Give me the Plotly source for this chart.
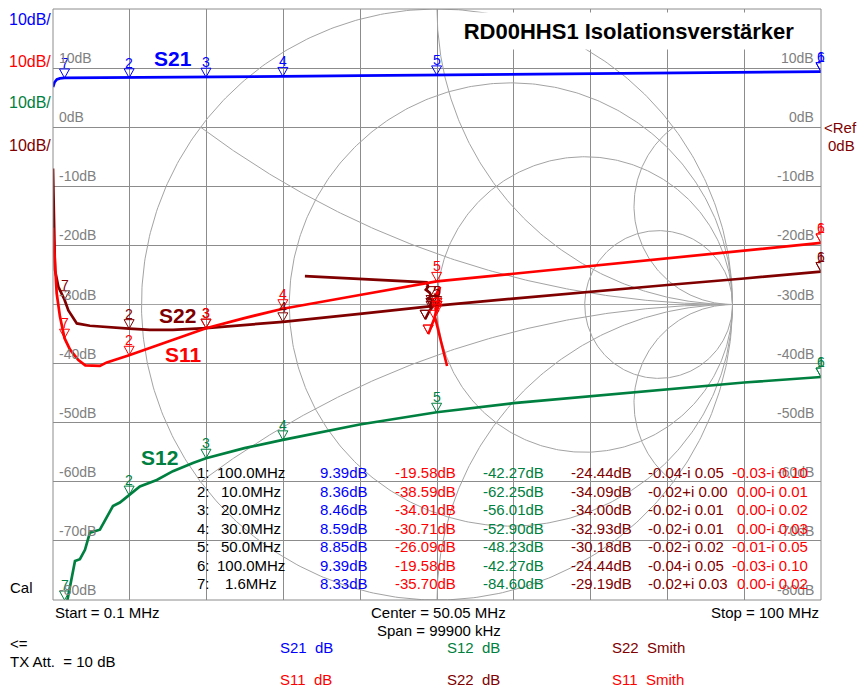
import numpy as np
import plotly.graph_objects as go

# ---------------- data ----------------
f_s21 = [0.1, 0.3, 0.6, 1.0, 1.6, 3.0, 5.0, 10, 11, 15, 20, 25, 30, 40, 50, 60, 70, 80, 90, 100]
s21_db = [6.8, 7.6, 8.1, 8.25, 8.33, 8.34, 8.35, 8.36, 8.4, 8.43, 8.46, 8.52, 8.59, 8.72, 8.85, 8.96, 9.07, 9.17, 9.28, 9.39]

f_s11 = [0.1, 0.36, 0.58, 1.0, 1.6, 2.3, 3.4, 4.3, 6.2, 7.1, 10, 15, 20, 25, 30, 40, 50, 60, 70, 80, 90, 100]
s11_db = [-17.0, -23.6, -28.1, -32.0, -35.7, -37.6, -39.4, -40.3, -40.4, -39.8, -38.59, -36.3, -34.01, -32.3,
          -30.71, -28.4, -26.09, -24.8, -23.5, -22.2, -20.9, -19.58]

f_s22 = [0.1, 0.27, 0.36, 0.8, 1.6, 2.1, 3.2, 4.9, 8.4, 10, 12.7, 15.7, 20, 25, 30, 40, 50, 60, 70, 80, 90, 100]
s22_db = [-7.0, -16.8, -24.2, -27.0, -29.19, -31.0, -33.2, -33.6, -34.0, -34.09, -34.3, -34.3, -34.0, -33.5,
          -32.93, -31.6, -30.18, -29.0, -27.8, -26.7, -25.6, -24.44]

f_s12 = [0.1, 0.5, 1.0, 1.6, 1.9, 2.5, 2.96, 3.6, 4.26, 4.9, 6.2, 7.9, 8.8, 10, 11.4, 13.6, 15.7, 18.3, 20,
         25, 30, 40, 50, 60, 70, 80, 90, 100]
s12_db = [-95, -92, -88, -84.6, -80.5, -76.5, -73.4, -73.1, -71.5, -68.6, -68.1, -64.1, -63.5, -62.25, -60.8,
          -59.7, -58.2, -56.8, -56.01, -54.3, -52.9, -50.3, -48.23, -46.7, -45.5, -44.3, -43.2, -42.27]

# Smith traces (reflection coefficient, real / imag)
s22_sm_re = [-0.447, -0.035, -0.030, -0.038, -0.025, -0.020, -0.030, -0.015, -0.020, -0.022, -0.018,
             -0.020, -0.020, -0.025, -0.030, -0.035, -0.040]
s22_sm_im = [0.096, 0.075, 0.060, 0.050, 0.040, 0.030, 0.020, 0.015, 0.005, 0.000, -0.005,
             -0.010, -0.015, -0.020, -0.030, -0.040, -0.050]
s11_sm_re = [0.034, -0.007, 0.010, -0.005, 0.008, 0.000, 0.005, -0.004, 0.002, 0.000, 0.000,
             -0.005, -0.010, -0.015, -0.020, -0.025, -0.030]
s11_sm_im = [-0.208, -0.042, 0.060, 0.030, 0.010, -0.020, 0.015, 0.000, -0.010, -0.015, -0.020,
             -0.030, -0.050, -0.060, -0.075, -0.090, -0.100]

# Marker table
mk_index = ["1:", "2:", "3:", "4:", "5:", "6:", "7:"]
mk_num = ["1", "2", "3", "4", "5", "6", "7"]
mk_freq = [100.0, 10.0, 20.0, 30.0, 50.0, 100.0, 1.6]
mk_freq_lbl = ["100.0MHz", "10.0MHz", "20.0MHz", "30.0MHz", "50.0MHz", "100.0MHz", "1.6MHz"]
mk_s21 = [9.39, 8.36, 8.46, 8.59, 8.85, 9.39, 8.33]
mk_s11 = [-19.58, -38.59, -34.01, -30.71, -26.09, -19.58, -35.70]
mk_s12 = [-42.27, -62.25, -56.01, -52.90, -48.23, -42.27, -84.60]
mk_s22 = [-24.44, -34.09, -34.00, -32.93, -30.18, -24.44, -29.19]
mk_s22_re = [-0.04, -0.02, -0.02, -0.02, -0.02, -0.04, -0.02]
mk_s22_im = [-0.05, 0.00, -0.01, -0.01, -0.02, -0.05, 0.03]
mk_s11_re = [-0.03, 0.00, 0.00, 0.00, -0.01, -0.03, 0.00]
mk_s11_im = [-0.10, -0.01, -0.02, -0.03, -0.05, -0.10, -0.02]

db_ticks = [10, 0, -10, -20, -30, -40, -50, -60, -70, -80]
smith_r = [0, 1/3, 1, 3]
smith_x = [1/3, 1, 3, -1/3, -1, -3]

# ---------------- styling ----------------
BLUE, RED, GREEN, DRED = "#0000ff", "#ff0000", "#008040", "#800000"
GRID, SMITH_C, LBL = "#8c8c8c", "#a3a3a3", "#808080"
FONT = "Liberation Sans, Arial, sans-serif"

W, H = 858, 691
L, R, T, B = 53, 821, 9, 600


def px(xp):
    return (xp - L) / (R - L)


def py(yp):
    return (B - yp) / (B - T)


fig = go.Figure()


def arc(re, im):
    fig.add_trace(go.Scatter(x=re, y=im, mode="lines", line=dict(color=SMITH_C, width=1),
                             hoverinfo="skip", showlegend=False, xaxis="x", yaxis="y"))


# Smith chart background grid (on Gamma axes)
t = np.linspace(0, 2 * np.pi, 500)
for r in smith_r:
    c, rad = r / (1 + r), 1 / (1 + r)
    arc(c + rad * np.cos(t), rad * np.sin(t))
rr = np.concatenate([[0.0], np.logspace(-3, 3, 500)])
for xv in smith_x:
    g = (rr + 1j * xv - 1) / (rr + 1j * xv + 1)
    arc(g.real, g.imag)
arc([-1, 1], [0, 0])

# Smith traces
fig.add_trace(go.Scatter(x=s22_sm_re, y=s22_sm_im, mode="lines", line=dict(color=DRED, width=2.6),
                         hoverinfo="skip", showlegend=False, xaxis="x", yaxis="y"))
fig.add_trace(go.Scatter(x=s11_sm_re, y=s11_sm_im, mode="lines", line=dict(color=RED, width=2.6),
                         hoverinfo="skip", showlegend=False, xaxis="x", yaxis="y"))

# dB traces
for f, v, col in [(f_s12, s12_db, GREEN), (f_s22, s22_db, DRED), (f_s11, s11_db, RED), (f_s21, s21_db, BLUE)]:
    fig.add_trace(go.Scatter(x=f, y=v, mode="lines", line=dict(color=col, width=2.7),
                             hoverinfo="skip", showlegend=False, xaxis="x2", yaxis="y2"))

shapes = []
ann = []

TRI = "M-5,9 L5,9 L0,0 Z"


def marker(x, y, xref, yref, col, num):
    shapes.append(dict(type="path", xref=xref, yref=yref, xsizemode="pixel", ysizemode="pixel",
                       xanchor=x, yanchor=y, path=TRI, line=dict(color=col, width=1)))
    ann.append(dict(x=x, y=y, xref=xref, yref=yref, text=num, showarrow=False, yshift=15,
                    xanchor="center", yanchor="middle", font=dict(family=FONT, size=14, color=col)))


for vals, col in [(mk_s12, GREEN), (mk_s22, DRED), (mk_s11, RED), (mk_s21, BLUE)]:
    for i in range(7):
        v = min(max(vals[i], -80), 20)
        marker(mk_freq[i], v, "x2", "y2", col, mk_num[i])
for re_, im_, col in [(mk_s22_re, mk_s22_im, DRED), (mk_s11_re, mk_s11_im, RED)]:
    for i in range(7):
        shapes.append(dict(type="path", xref="x", yref="y", xsizemode="pixel", ysizemode="pixel",
                           xanchor=re_[i], yanchor=im_[i], path=TRI, line=dict(color=col, width=1)))

# frame
shapes.append(dict(type="rect", xref="paper", yref="paper", x0=0, x1=1, y0=0, y1=1,
                   line=dict(color=GRID, width=1), layer="above"))


def text(xp, yp, s, col="black", size=15, xa="left", bold=False, **kw):
    ann.append(dict(x=px(xp), y=py(yp), xref="paper", yref="paper", text=(f"<b>{s}</b>" if bold else s),
                    showarrow=False, xanchor=xa, yanchor="middle",
                    font=dict(family=FONT, size=size, color=col), **kw))


# gray dB labels inside plot
for v in db_ticks:
    lab = f"{v}dB"
    ann.append(dict(x=px(57), y=v, xref="paper", yref="y2", text=lab, showarrow=False, xanchor="left",
                    yanchor="bottom", font=dict(family=FONT, size=14, color=LBL)))
    ann.append(dict(x=px(816), y=v, xref="paper", yref="y2", text=lab, showarrow=False, xanchor="right",
                    yanchor="bottom", font=dict(family=FONT, size=14, color=LBL)))

# scale labels at left
for yp, col in [(19, BLUE), (61, RED), (102, GREEN), (146, DRED)]:
    text(7, yp, "10dB/", col, size=16)
text(822, 127, "&lt;Ref", DRED, size=15)
text(826, 145, "0dB", DRED, size=15)
text(8, 587, "Cal", "black", size=15)

# title
ann.append(dict(x=px(629), y=py(31), xref="paper", yref="paper",
                text="<b>RD00HHS1 Isolationsverstärker</b>", showarrow=False,
                xanchor="center", yanchor="middle", bgcolor="white", width=362, height=34,
                font=dict(family=FONT, size=22, color="black")))

# trace labels
text(152, 59, "S21", BLUE, size=21, bold=True)
text(157, 315, "S22", DRED, size=21, bold=True)
text(163, 354, "S11", RED, size=21, bold=True)
text(139, 457, "S12", GREEN, size=21, bold=True)

# marker table
def smith_str(re_, im_):
    return f"{re_:.2f}{'+' if im_ >= 0 else '-'}i {abs(im_):.2f}"


for i in range(7):
    yp = 472.5 + 18.5 * i
    text(195, yp, mk_index[i])
    text(251, yp, mk_freq_lbl[i], xa="center")
    text(370, yp, f"{mk_s21[i]:.2f}dB", BLUE, xa="right")
    text(458, yp, f"{mk_s11[i]:.2f}dB", RED, xa="right")
    text(546, yp, f"{mk_s12[i]:.2f}dB", GREEN, xa="right")
    text(634, yp, f"{mk_s22[i]:.2f}dB", DRED, xa="right")
    text(646, yp, smith_str(mk_s22_re[i], mk_s22_im[i]), DRED, xa="left")
    text(810, yp, smith_str(mk_s11_re[i], mk_s11_im[i]), RED, xa="right")

# footer
text(53, 612, "Start = 0.1 MHz")
text(438, 612, "Center = 50.05 MHz", xa="center")
text(439, 631, "Span = 99900 kHz", xa="center")
text(821, 612, "Stop = 100 MHz", xa="right")
text(8, 643, "&lt;=")
text(8, 661, "TX Att.  = 10 dB")
text(278, 647, "S21  dB", BLUE)
text(278, 679, "S11  dB", RED)
text(445, 647, "S12  dB", GREEN)
text(445, 679, "S22  dB", DRED)
text(610, 647, "S22  Smith", DRED)
text(610, 679, "S11  Smith", RED)

half = (R - L) / (B - T)  # aspect so that Smith chart is circular
fig.update_layout(
    width=W, height=H,
    margin=dict(l=L, r=W - R, t=T, b=H - B, pad=0),
    paper_bgcolor="white", plot_bgcolor="white", showlegend=False,
    xaxis=dict(range=[-half, half], visible=False, fixedrange=True),
    yaxis=dict(range=[-1, 1], visible=False, fixedrange=True),
    xaxis2=dict(range=[0.1, 100], overlaying="x", anchor="y2", tick0=0.1, dtick=9.99, showgrid=True,
                gridcolor=GRID, gridwidth=1, showticklabels=False, ticks="", zeroline=False, showline=False),
    yaxis2=dict(range=[-80, 20], overlaying="y", anchor="x2", dtick=10, showgrid=True,
                gridcolor=GRID, gridwidth=1, showticklabels=False, ticks="", zeroline=False, showline=False),
    shapes=shapes, annotations=ann,
)

fig.write_html("out.html", config={"displayModeBar": False})
